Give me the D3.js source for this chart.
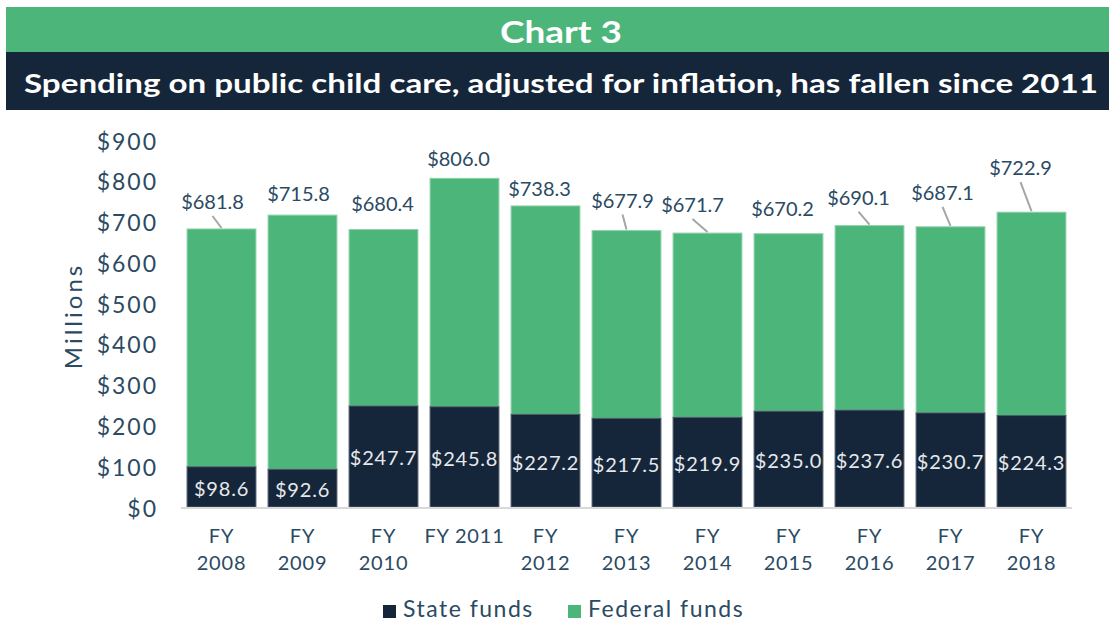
<!DOCTYPE html>
<meta charset="utf-8">
<style>
body{ margin:0; background:#fff; }
text{ font-family: Lato, "Open Sans", sans-serif; }
.tick text{ fill:#2b4a63; font-size:23px; letter-spacing:2px; }
.xlab{ fill:#2b4a63; font-size:20px; text-anchor:middle; letter-spacing:0.8px; }
.total{ fill:#2b4a63; font-size:20px; text-anchor:middle; }
.state{ fill:#e6e9ec; font-size:20px; text-anchor:middle; letter-spacing:0.8px; }
.legend text{ fill:#2b4a63; font-size:23px; letter-spacing:1.5px; }
</style>
<body>
<script src="https://d3js.org/d3.v7.min.js"></script>
<script>
// values (millions of dollars)
var years   = ["FY 2008","FY 2009","FY 2010","FY 2011","FY 2012","FY 2013","FY 2014","FY 2015","FY 2016","FY 2017","FY 2018"];
var state   = [98.6, 92.6, 247.7, 245.8, 227.2, 217.5, 219.9, 235.0, 237.6, 230.7, 224.3];
var totals  = [681.8, 715.8, 680.4, 806.0, 738.3, 677.9, 671.7, 670.2, 690.1, 687.1, 722.9];
var yTicks  = [0, 100, 200, 300, 400, 500, 600, 700, 800, 900];

// where each total label sits relative to its bar (layout only)
var labelDx = [-9, -4, -1, -6, -6, -4, -15, -6, -11, -8, -11];
var labelDy = [-28, -22, -27, -20, -18, -31, -29, -26, -29, -35, -45];
var leader  = [1, 0, 0, 0, 0, 1, 1, 0, 1, 1, 1];

var green = "#4cb67a", navy = "#16263a";

var svg = d3.select("body").append("svg").attr("width", 1109).attr("height", 623);

// header bands
svg.append("rect").attr("x",6).attr("y",7).attr("width",1103).attr("height",45).attr("fill",green);
svg.append("rect").attr("x",6).attr("y",52).attr("width",1103).attr("height",58).attr("fill",navy);
svg.append("text").attr("x",561).attr("y",31).attr("dominant-baseline","central")
   .attr("text-anchor","middle").attr("fill","#fff").style("font-size","30px").style("font-weight","bold")
   .attr("textLength",122).attr("lengthAdjust","spacingAndGlyphs")
   .text("Chart 3");
svg.append("text").attr("x",561).attr("y",82).attr("dominant-baseline","central")
   .attr("text-anchor","middle").attr("fill","#fff").style("font-size","27px").style("font-weight","bold")
   .attr("textLength", 1074).attr("lengthAdjust","spacingAndGlyphs")
   .text("Spending on public child care, adjusted for inflation, has fallen since 2011");

var x = d3.scaleBand().domain(years).range([181, 1072]).paddingInner(0.15).paddingOuter(0.075);
var y = d3.scaleLinear().domain([0, 900]).range([507, 140]);

// y axis
var yAxis = svg.append("g").attr("transform","translate(160,0)")
   .call(d3.axisLeft(y).tickValues(yTicks).tickSize(0).tickPadding(2).tickFormat(d => "$" + d));
yAxis.select(".domain").remove();
yAxis.selectAll(".tick text").attr("dominant-baseline","central").attr("dy",null);

svg.append("text").attr("transform","translate(72,316) rotate(-90)")
   .attr("text-anchor","middle").attr("dominant-baseline","central")
   .attr("fill","#2b4a63").style("font-size","24px").style("letter-spacing","3px").text("Millions");

var rows = years.map((d,i) => ({year:d, state:state[i], total:totals[i], i:i}));

// federal (top) and state (bottom) segments
svg.selectAll(".fed").data(rows).join("rect").attr("class","fed")
   .attr("x", d => x(d.year)).attr("width", x.bandwidth())
   .attr("y", d => y(d.total)).attr("height", d => y(d.state) - y(d.total))
   .attr("fill", green).attr("stroke","#8fd0aa").attr("stroke-width",1);
svg.selectAll(".st").data(rows).join("rect").attr("class","st")
   .attr("x", d => x(d.year)).attr("width", x.bandwidth())
   .attr("y", d => y(d.state)).attr("height", d => y(0) - y(d.state))
   .attr("fill", navy).attr("stroke","#4d5b6b").attr("stroke-width",1);

// x axis line
svg.append("line").attr("x1",181).attr("x2",1072).attr("y1",y(0)+1).attr("y2",y(0)+1)
   .attr("stroke","#d9d9d9").attr("stroke-width",2);

// state labels
svg.selectAll(".state").data(rows).join("text").attr("class","state")
   .attr("x", d => x(d.year) + x.bandwidth()/2)
   .attr("y", d => (y(d.state) + y(0))/2 + 1)
   .attr("dominant-baseline","central")
   .text(d => "$" + d.state.toFixed(1));

// total labels with leader lines
var cx = d => x(d.year) + x.bandwidth()/2;
svg.selectAll(".lead").data(rows.filter(d => leader[d.i])).join("line").attr("class","lead")
   .attr("x1", d => cx(d) + labelDx[d.i]).attr("y1", d => y(d.total) + labelDy[d.i] + 15)
   .attr("x2", d => cx(d)).attr("y2", d => y(d.total) - 1)
   .attr("stroke","#a6a6a6").attr("stroke-width",2);
svg.selectAll(".total").data(rows).join("text").attr("class","total")
   .attr("x", d => cx(d) + labelDx[d.i])
   .attr("y", d => y(d.total) + labelDy[d.i])
   .attr("dominant-baseline","central")
   .text(d => "$" + d.total.toFixed(1));

// x labels, wrapped like the original
svg.selectAll(".xlab").data(rows).join("text").attr("class","xlab")
   .attr("x", cx).attr("y", 535).attr("dominant-baseline","central")
   .each(function(d){
      var t = d3.select(this);
      if (d.year === "FY 2011") { t.text(d.year); return; }
      var parts = d.year.split(" ");
      t.append("tspan").attr("x", cx(d)).attr("dy", 0).text(parts[0]);
      t.append("tspan").attr("x", cx(d)).attr("dy", 27).text(parts[1]);
   });

// legend
var leg = svg.append("g").attr("class","legend");
var items = [["State funds", navy, 383], ["Federal funds", green, 568]];
items.forEach(function(it){
   leg.append("rect").attr("x", it[2]).attr("y", 605).attr("width",13).attr("height",13).attr("fill", it[1]);
   leg.append("text").attr("x", it[2] + 20).attr("y", 617).text(it[0]);
});
</script>
</body>
